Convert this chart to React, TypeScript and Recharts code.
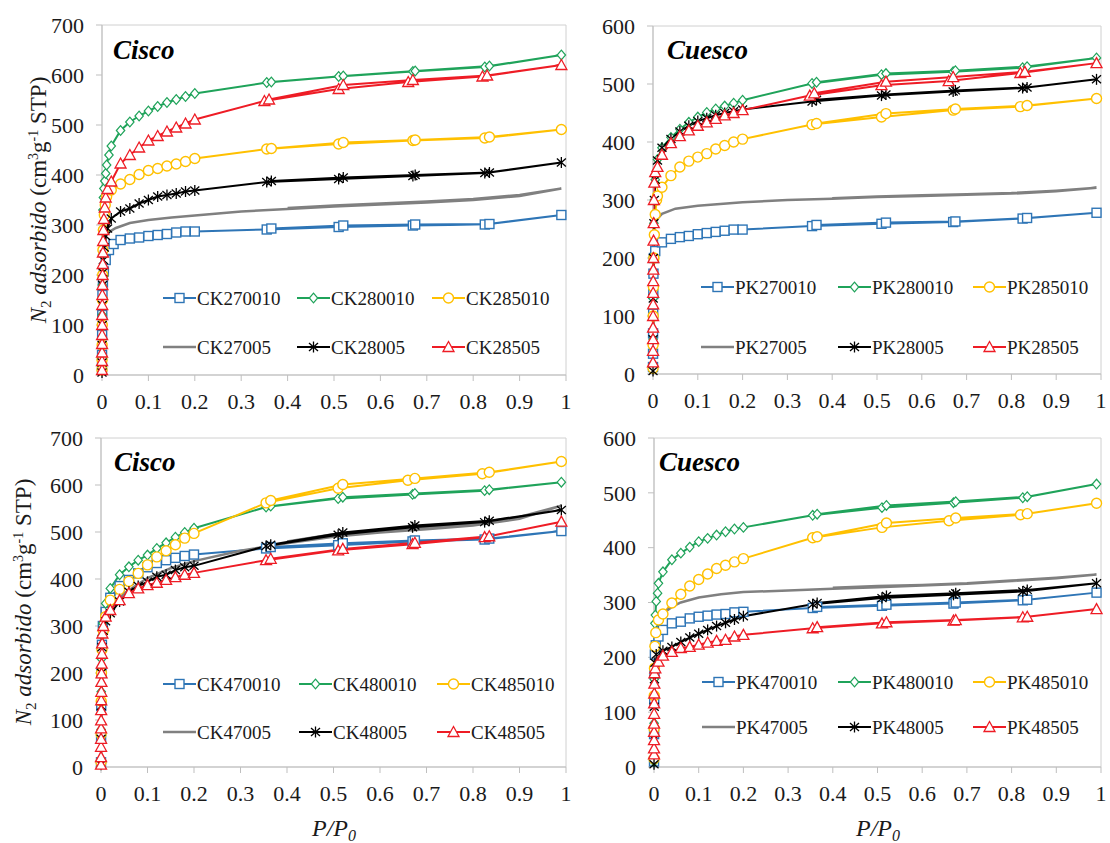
import React from 'react';
import { LineChart, Line, XAxis, YAxis, ReferenceArea } from 'recharts';

type Pt = [number, number];
type MarkerKind = 'square' | 'diamond' | 'circle' | 'none' | 'asterisk' | 'triangle';

const FONT = 'Liberation Serif';

const X_TICKS = [0, 0.1, 0.2, 0.3, 0.4, 0.5, 0.6, 0.7, 0.8, 0.9, 1];
const Y_TICKS_700 = [0, 100, 200, 300, 400, 500, 600, 700];
const Y_TICKS_600 = [0, 100, 200, 300, 400, 500, 600];

// ---------- Top-left: Cisco (CK2...) ----------
const TL_CK270010: Pt[] = [[0.00005, 15], [0.0001, 40], [0.0003, 80], [0.0006, 120], [0.001, 160], [0.002, 185], [0.004, 207], [0.008, 230], [0.015, 250], [0.025, 262], [0.04, 270], [0.06, 273], [0.08, 275], [0.10, 278], [0.12, 280], [0.14, 282], [0.16, 285], [0.18, 287], [0.20, 287], [0.355, 291], [0.51, 296], [0.67, 299], [0.825, 301], [0.99, 320], [0.835, 302], [0.675, 301], [0.52, 299], [0.365, 293]];
const TL_CK280010: Pt[] = [[0.00005, 20], [0.0001, 60], [0.0003, 120], [0.0006, 180], [0.001, 240], [0.0015, 290], [0.002, 330], [0.003, 355], [0.004, 373], [0.006, 388], [0.008, 403], [0.01, 420], [0.015, 440], [0.02, 458], [0.04, 489], [0.06, 506], [0.08, 518], [0.10, 528], [0.12, 537], [0.14, 545], [0.16, 551], [0.18, 557], [0.20, 563], [0.355, 585], [0.51, 597], [0.67, 607], [0.825, 616], [0.99, 640], [0.835, 618], [0.675, 608], [0.52, 598], [0.365, 586]];
const TL_CK285010: Pt[] = [[0.00005, 10], [0.0001, 30], [0.0003, 60], [0.0006, 100], [0.001, 150], [0.0015, 200], [0.002, 250], [0.003, 290], [0.005, 320], [0.007, 340], [0.01, 357], [0.02, 370], [0.04, 382], [0.06, 391], [0.08, 401], [0.10, 409], [0.12, 413], [0.14, 418], [0.16, 422], [0.18, 427], [0.20, 433], [0.355, 452], [0.51, 462], [0.67, 469], [0.825, 474], [0.99, 491], [0.835, 476], [0.675, 470], [0.52, 465], [0.365, 453]];
const TL_CK27005: Pt[] = [[0.00005, 10], [0.0002, 60], [0.0005, 120], [0.001, 180], [0.002, 230], [0.004, 262], [0.008, 278], [0.013, 285], [0.03, 294], [0.06, 304], [0.1, 310], [0.15, 315], [0.2, 319], [0.3, 327], [0.4, 332], [0.5, 337], [0.6, 341], [0.7, 345], [0.8, 350], [0.9, 358], [0.99, 373], [0.9, 360], [0.8, 352], [0.7, 347], [0.6, 343], [0.5, 339], [0.4, 334]];
const TL_CK28005: Pt[] = [[0.00005, 5], [0.0001, 25], [0.0003, 60], [0.0006, 100], [0.001, 140], [0.0015, 180], [0.002, 205], [0.003, 230], [0.005, 255], [0.008, 278], [0.012, 293], [0.02, 313], [0.04, 327], [0.06, 333], [0.08, 343], [0.10, 350], [0.12, 357], [0.14, 360], [0.16, 363], [0.18, 367], [0.20, 369], [0.355, 386], [0.51, 392], [0.67, 398], [0.825, 404], [0.99, 425], [0.835, 405], [0.675, 400], [0.52, 395], [0.365, 388]];
const TL_CK28505: Pt[] = [[0.00003, 10], [0.00006, 28], [0.0001, 45], [0.00015, 62], [0.0002, 80], [0.0003, 100], [0.0004, 120], [0.0005, 140], [0.0007, 160], [0.0009, 180], [0.0012, 200], [0.0015, 222], [0.002, 245], [0.0025, 268], [0.003, 290], [0.004, 312], [0.006, 335], [0.008, 355], [0.012, 372], [0.02, 387], [0.04, 423], [0.06, 440], [0.08, 455], [0.10, 469], [0.12, 478], [0.14, 487], [0.16, 495], [0.18, 503], [0.20, 511], [0.35, 548], [0.51, 572], [0.66, 586], [0.82, 597], [0.99, 620], [0.83, 599], [0.67, 590], [0.52, 580], [0.36, 551]];

// ---------- Top-right: Cuesco (PK2...) ----------
const TR_PK270010: Pt[] = [[0.00005, 12], [0.0001, 35], [0.0002, 70], [0.0004, 104], [0.0007, 138], [0.001, 173], [0.002, 200], [0.005, 212], [0.02, 227], [0.04, 233], [0.06, 236], [0.08, 238], [0.10, 241], [0.12, 243], [0.14, 245], [0.16, 247], [0.18, 249], [0.20, 249], [0.355, 255], [0.51, 259], [0.67, 262], [0.825, 268], [0.99, 278], [0.835, 269], [0.675, 263], [0.52, 261], [0.365, 257]];
const TR_PK280010: Pt[] = [[0.00005, 10], [0.0002, 60], [0.0005, 130], [0.001, 200], [0.002, 260], [0.003, 300], [0.005, 335], [0.01, 370], [0.02, 390], [0.04, 408], [0.06, 422], [0.08, 434], [0.10, 443], [0.12, 451], [0.14, 457], [0.16, 462], [0.18, 467], [0.20, 472], [0.355, 501], [0.51, 516], [0.67, 521], [0.825, 528], [0.99, 545], [0.835, 530], [0.675, 523], [0.52, 518], [0.365, 503]];
const TR_PK285010: Pt[] = [[0.00005, 10], [0.0002, 50], [0.0005, 100], [0.001, 150], [0.002, 200], [0.003, 240], [0.005, 275], [0.008, 300], [0.01, 307], [0.02, 322], [0.04, 342], [0.06, 357], [0.08, 367], [0.10, 374], [0.12, 380], [0.14, 388], [0.16, 394], [0.18, 400], [0.20, 405], [0.355, 430], [0.51, 443], [0.67, 455], [0.82, 461], [0.99, 475], [0.835, 463], [0.675, 457], [0.52, 449], [0.365, 432]];
const TR_PK27005: Pt[] = [[0.00005, 5], [0.0002, 60], [0.0005, 130], [0.001, 190], [0.002, 235], [0.004, 258], [0.01, 268], [0.02, 276], [0.05, 285], [0.1, 290], [0.15, 293], [0.2, 296], [0.3, 300], [0.4, 302], [0.5, 305], [0.6, 307], [0.7, 309], [0.8, 311], [0.9, 315], [0.99, 321], [0.9, 316], [0.8, 312], [0.7, 310], [0.6, 308], [0.5, 306], [0.4, 303]];
const TR_PK28005: Pt[] = [[0.00005, 5], [0.0002, 60], [0.0005, 130], [0.001, 200], [0.002, 260], [0.003, 300], [0.005, 335], [0.01, 368], [0.02, 390], [0.04, 405], [0.06, 418], [0.08, 428], [0.10, 436], [0.12, 441], [0.14, 446], [0.16, 450], [0.18, 453], [0.20, 456], [0.355, 470], [0.51, 480], [0.67, 487], [0.825, 493], [0.99, 508], [0.835, 494], [0.675, 489], [0.52, 482], [0.365, 473]];
const TR_PK28505: Pt[] = [[0.00003, 20], [0.00006, 40], [0.0001, 60], [0.00015, 80], [0.0002, 100], [0.0003, 120], [0.0004, 140], [0.0005, 160], [0.0007, 180], [0.0009, 200], [0.0012, 230], [0.0016, 260], [0.002, 300], [0.003, 330], [0.005, 348], [0.01, 357], [0.02, 378], [0.04, 398], [0.06, 410], [0.08, 420], [0.10, 428], [0.12, 434], [0.14, 440], [0.16, 446], [0.18, 450], [0.20, 455], [0.35, 480], [0.51, 498], [0.66, 505], [0.82, 519], [0.99, 536], [0.83, 521], [0.67, 512], [0.52, 504], [0.36, 484]];

// ---------- Bottom-left: Cisco (CK4...) ----------
const BL_CK470010: Pt[] = [[0.00005, 10], [0.0002, 60], [0.0005, 130], [0.001, 200], [0.002, 260], [0.004, 300], [0.01, 330], [0.02, 360], [0.04, 385], [0.06, 398], [0.08, 412], [0.10, 425], [0.12, 434], [0.14, 440], [0.16, 445], [0.18, 449], [0.20, 452], [0.355, 465], [0.51, 472], [0.67, 480], [0.825, 484], [0.99, 502], [0.835, 486], [0.675, 482], [0.52, 476], [0.365, 468]];
const BL_CK480010: Pt[] = [[0.00005, 10], [0.0002, 80], [0.0005, 160], [0.001, 230], [0.002, 280], [0.004, 306], [0.01, 348], [0.02, 380], [0.04, 409], [0.06, 426], [0.08, 440], [0.10, 451], [0.12, 465], [0.14, 477], [0.16, 489], [0.18, 499], [0.20, 508], [0.355, 553], [0.51, 571], [0.67, 580], [0.825, 588], [0.99, 606], [0.835, 590], [0.675, 582], [0.52, 574], [0.365, 555]];
const BL_CK485010: Pt[] = [[0.00005, 10], [0.0002, 70], [0.0005, 140], [0.001, 200], [0.002, 250], [0.005, 290], [0.01, 320], [0.02, 355], [0.04, 378], [0.06, 395], [0.08, 412], [0.10, 430], [0.12, 447], [0.14, 460], [0.16, 473], [0.18, 487], [0.20, 497], [0.355, 562], [0.51, 593], [0.66, 610], [0.82, 624], [0.99, 650], [0.835, 627], [0.675, 614], [0.52, 601], [0.365, 567]];
const BL_CK47005: Pt[] = [[0.00005, 10], [0.0005, 120], [0.001, 200], [0.002, 260], [0.005, 295], [0.01, 312], [0.02, 335], [0.05, 370], [0.1, 402], [0.15, 423], [0.2, 438], [0.3, 460], [0.4, 476], [0.5, 490], [0.6, 499], [0.7, 506], [0.8, 514], [0.9, 528], [0.99, 556], [0.9, 532], [0.8, 518], [0.7, 510], [0.6, 503], [0.5, 495], [0.4, 480]];
const BL_CK48005: Pt[] = [[0.00005, 5], [0.0002, 60], [0.0005, 130], [0.001, 200], [0.002, 255], [0.005, 290], [0.01, 310], [0.02, 327], [0.04, 352], [0.06, 373], [0.08, 385], [0.10, 394], [0.12, 405], [0.14, 409], [0.16, 419], [0.18, 425], [0.20, 428], [0.355, 470], [0.51, 494], [0.67, 510], [0.825, 521], [0.99, 547], [0.835, 524], [0.675, 514], [0.52, 499], [0.365, 473]];
const BL_CK48505: Pt[] = [[0.00003, 5], [0.00006, 21], [0.0001, 43], [0.00015, 60], [0.0002, 82], [0.0003, 99], [0.0004, 121], [0.0005, 142], [0.0007, 160], [0.0009, 181], [0.0012, 199], [0.0015, 220], [0.002, 241], [0.0025, 263], [0.003, 284], [0.005, 300], [0.01, 320], [0.02, 334], [0.04, 355], [0.06, 370], [0.08, 380], [0.10, 387], [0.12, 392], [0.14, 398], [0.16, 404], [0.18, 409], [0.20, 413], [0.355, 440], [0.51, 461], [0.67, 474], [0.825, 489], [0.99, 522], [0.835, 491], [0.675, 477], [0.52, 464], [0.365, 443]];

// ---------- Bottom-right: Cuesco (PK4...) ----------
const BR_PK470010: Pt[] = [[0.00005, 10], [0.0002, 60], [0.0005, 120], [0.001, 170], [0.002, 205], [0.004, 222], [0.01, 238], [0.02, 250], [0.04, 262], [0.06, 265], [0.08, 271], [0.10, 274], [0.12, 276], [0.14, 278], [0.16, 279], [0.18, 282], [0.20, 283], [0.355, 290], [0.51, 294], [0.67, 298], [0.825, 304], [0.99, 318], [0.835, 305], [0.675, 300], [0.52, 296], [0.365, 292]];
const BR_PK480010: Pt[] = [[0.00005, 10], [0.0002, 80], [0.0005, 160], [0.001, 220], [0.002, 262], [0.003, 277], [0.005, 302], [0.008, 317], [0.01, 335], [0.02, 356], [0.04, 378], [0.06, 390], [0.08, 401], [0.10, 411], [0.12, 417], [0.14, 423], [0.16, 429], [0.18, 434], [0.20, 437], [0.355, 459], [0.51, 473], [0.67, 482], [0.825, 491], [0.99, 516], [0.835, 493], [0.675, 484], [0.52, 477], [0.365, 461]];
const BR_PK485010: Pt[] = [[0.00005, 15], [0.0002, 70], [0.0005, 130], [0.001, 180], [0.002, 220], [0.004, 245], [0.01, 268], [0.02, 279], [0.04, 299], [0.06, 315], [0.08, 330], [0.10, 342], [0.12, 352], [0.14, 362], [0.16, 368], [0.18, 374], [0.20, 380], [0.355, 418], [0.51, 437], [0.66, 449], [0.82, 460], [0.99, 481], [0.835, 462], [0.675, 454], [0.52, 445], [0.365, 420]];
const BR_PK47005: Pt[] = [[0.00005, 5], [0.0005, 100], [0.001, 170], [0.002, 225], [0.004, 250], [0.01, 268], [0.02, 280], [0.04, 292], [0.06, 300], [0.1, 309], [0.15, 315], [0.2, 319], [0.3, 322], [0.4, 325], [0.5, 328], [0.6, 331], [0.7, 334], [0.8, 339], [0.9, 344], [0.99, 351], [0.9, 345], [0.8, 340], [0.7, 335], [0.6, 332], [0.5, 330], [0.4, 327]];
const BR_PK48005: Pt[] = [[0.00005, 5], [0.0002, 50], [0.0005, 110], [0.001, 160], [0.002, 190], [0.005, 205], [0.02, 212], [0.04, 219], [0.06, 228], [0.08, 236], [0.10, 243], [0.12, 250], [0.14, 257], [0.16, 263], [0.18, 269], [0.20, 275], [0.355, 297], [0.51, 308], [0.67, 314], [0.825, 320], [0.99, 335], [0.835, 323], [0.675, 317], [0.52, 312], [0.365, 299]];
const BR_PK48505: Pt[] = [[0.00003, 23], [0.00006, 34], [0.0001, 49], [0.00015, 64], [0.0002, 79], [0.0003, 97], [0.0004, 116], [0.0006, 134], [0.0008, 152], [0.001, 171], [0.003, 180], [0.01, 192], [0.02, 203], [0.04, 210], [0.06, 217], [0.08, 219], [0.10, 223], [0.12, 227], [0.14, 230], [0.16, 232], [0.18, 238], [0.20, 241], [0.355, 253], [0.51, 262], [0.67, 267], [0.825, 273], [0.99, 288], [0.835, 274], [0.675, 268], [0.52, 264], [0.365, 255]];

const TL_NAMES = ['CK270010', 'CK280010', 'CK285010', 'CK27005', 'CK28005', 'CK28505'];
const TR_NAMES = ['PK270010', 'PK280010', 'PK285010', 'PK27005', 'PK28005', 'PK28505'];
const BL_NAMES = ['CK470010', 'CK480010', 'CK485010', 'CK47005', 'CK48005', 'CK48505'];
const BR_NAMES = ['PK470010', 'PK480010', 'PK485010', 'PK47005', 'PK48005', 'PK48505'];

const COLORS = ['#2E75B6', '#1FA35A', '#FFC000', '#808080', '#000000', '#EE1C25'];
const MARKERS: MarkerKind[] = ['square', 'diamond', 'circle', 'none', 'asterisk', 'triangle'];

function Marker({ kind, color, cx, cy }: { kind: MarkerKind; color: string; cx: number; cy: number }) {
  if (kind === 'square') return <rect x={cx - 4.5} y={cy - 4.5} width={9} height={9} fill="#fff" stroke={color} strokeWidth={1.4} />;
  if (kind === 'diamond') return <polygon points={`${cx},${cy - 4.8} ${cx + 4.2},${cy} ${cx},${cy + 4.8} ${cx - 4.2},${cy}`} fill="#fff" stroke={color} strokeWidth={1.2} />;
  if (kind === 'circle') return <circle cx={cx} cy={cy} r={5} fill="#fff" stroke={color} strokeWidth={1.4} />;
  if (kind === 'triangle') return <polygon points={`${cx},${cy - 5.5} ${cx + 5.5},${cy + 4.5} ${cx - 5.5},${cy + 4.5}`} fill="#fff" stroke={color} strokeWidth={1.3} />;
  if (kind === 'asterisk')
    return (
      <g stroke={color} strokeWidth={1.3}>
        <line x1={cx} y1={cy - 5.5} x2={cx} y2={cy + 5.5} />
        <line x1={cx - 4.5} y1={cy - 4} x2={cx + 4.5} y2={cy + 4} />
        <line x1={cx - 4.5} y1={cy + 4} x2={cx + 4.5} y2={cy - 4} />
      </g>
    );
  return <g />;
}

type PanelCfg = {
  left: number; top: number; width: number; height: number;
  margin: { top: number; right: number; bottom: number; left: number };
  xAxisHeight: number;
  yMax: number; yTicks: number[];
  series: Pt[][]; names: string[];
};

const PANELS: PanelCfg[] = [
  { left: 0, top: 0, width: 580, height: 420, margin: { top: 25, right: 14, bottom: 0, left: 42 }, xAxisHeight: 45, yMax: 700, yTicks: Y_TICKS_700, series: [TL_CK270010, TL_CK280010, TL_CK285010, TL_CK27005, TL_CK28005, TL_CK28505], names: TL_NAMES },
  { left: 560, top: 0, width: 550, height: 420, margin: { top: 26, right: 9, bottom: 0, left: 33 }, xAxisHeight: 46, yMax: 600, yTicks: Y_TICKS_600, series: [TR_PK270010, TR_PK280010, TR_PK285010, TR_PK27005, TR_PK28005, TR_PK28505], names: TR_NAMES },
  { left: 0, top: 420, width: 580, height: 423, margin: { top: 18, right: 14, bottom: 36, left: 41 }, xAxisHeight: 40, yMax: 700, yTicks: Y_TICKS_700, series: [BL_CK470010, BL_CK480010, BL_CK485010, BL_CK47005, BL_CK48005, BL_CK48505], names: BL_NAMES },
  { left: 560, top: 420, width: 550, height: 423, margin: { top: 18, right: 9, bottom: 36, left: 34 }, xAxisHeight: 40, yMax: 600, yTicks: Y_TICKS_600, series: [BR_PK470010, BR_PK480010, BR_PK485010, BR_PK47005, BR_PK48005, BR_PK48505], names: BR_NAMES },
];

const tickStyle = { fontFamily: FONT, fontSize: 22, fill: '#1a1a1a' };

function Panel({ cfg }: { cfg: PanelCfg }) {
  return (
    <div style={{ position: 'absolute', left: cfg.left, top: cfg.top, width: cfg.width, height: cfg.height }}>
      <LineChart width={cfg.width} height={cfg.height} margin={cfg.margin}>
        <XAxis
          type="number"
          dataKey="x"
          domain={[0, 1]}
          ticks={X_TICKS}
          tickFormatter={(v: number) => String(+v.toFixed(1))}
          height={cfg.xAxisHeight}
          tick={tickStyle}
          tickSize={6}
          tickMargin={12}
          axisLine={{ stroke: '#BFBFBF' }}
          tickLine={{ stroke: '#BFBFBF' }}
          interval={0}
        />
        <YAxis
          type="number"
          domain={[0, cfg.yMax]}
          ticks={cfg.yTicks}
          width={60}
          tick={tickStyle}
          tickSize={6}
          tickMargin={12}
          axisLine={{ stroke: '#BFBFBF' }}
          tickLine={{ stroke: '#BFBFBF' }}
          interval={0}
        />
        <ReferenceArea x1={0} x2={1} y1={0} y2={cfg.yMax} fill="none" stroke="#D0D0D0" strokeWidth={1} />
        {cfg.series.map((pts, i) => (
          <Line
            key={cfg.names[i]}
            name={cfg.names[i]}
            data={pts.map(([x, y]) => ({ x, y }))}
            dataKey="y"
            type="linear"
            stroke={COLORS[i]}
            strokeWidth={MARKERS[i] === 'none' ? 2.5 : 2}
            isAnimationActive={false}
            dot={MARKERS[i] === 'none' ? false : (p: any) => <Marker key={`${cfg.names[i]}-${p.index}`} kind={MARKERS[i]} color={COLORS[i]} cx={p.cx} cy={p.cy} />}
            activeDot={false}
          />
        ))}
      </LineChart>
    </div>
  );
}

type LegendCfg = { cols: number[]; rows: number[]; names: string[] };
const LEGENDS: LegendCfg[] = [
  { cols: [163, 297, 432], rows: [298, 347], names: TL_NAMES },
  { cols: [701, 838, 973], rows: [287, 347], names: TR_NAMES },
  { cols: [163, 299, 437], rows: [684, 732], names: BL_NAMES },
  { cols: [702, 838, 973], rows: [682, 727], names: BR_NAMES },
];

const TITLES = [
  { x: 113, y: 59, t: 'Cisco' },
  { x: 667, y: 59, t: 'Cuesco' },
  { x: 114, y: 471, t: 'Cisco' },
  { x: 659, y: 471, t: 'Cuesco' },
];

function YLabel({ x, y }: { x: number; y: number }) {
  return (
    <text transform={`translate(${x},${y}) rotate(-90)`} textAnchor="middle" fontFamily={FONT} fontSize={23} fill="#1a1a1a">
      <tspan fontStyle="italic">N</tspan>
      <tspan fontSize={15} dy={5}>2</tspan>
      <tspan fontStyle="italic" dy={-5}> adsorbido</tspan>
      <tspan> (cm</tspan>
      <tspan fontSize={14} dy={-8}>3</tspan>
      <tspan dy={8}>g</tspan>
      <tspan fontSize={14} dy={-8}>-1</tspan>
      <tspan dy={8}> STP)</tspan>
    </text>
  );
}

function XLabel({ x, y }: { x: number; y: number }) {
  return (
    <text x={x} y={y} textAnchor="middle" fontFamily={FONT} fontSize={24} fontStyle="italic" fill="#1a1a1a">
      <tspan>P/P</tspan>
      <tspan fontSize={16} dy={5}>0</tspan>
    </text>
  );
}

function Overlay() {
  return (
    <svg width={1110} height={843} style={{ position: 'absolute', left: 0, top: 0, pointerEvents: 'none' }}>
      {TITLES.map((t, i) => (
        <text key={i} x={t.x} y={t.y} fontFamily={FONT} fontSize={27} fontWeight="bold" fontStyle="italic" fill="#000">
          {t.t}
        </text>
      ))}
      <YLabel x={46} y={200} />
      <YLabel x={31} y={602} />
      <XLabel x={334} y={836} />
      <XLabel x={878} y={836} />
      {LEGENDS.map((lg, li) =>
        lg.names.map((n, i) => {
          const x0 = lg.cols[i % 3];
          const y0 = lg.rows[Math.floor(i / 3)];
          return (
            <g key={`${li}-${n}`}>
              <line x1={x0} y1={y0} x2={x0 + 33} y2={y0} stroke={COLORS[i]} strokeWidth={MARKERS[i] === 'none' ? 2.5 : 2} />
              <Marker kind={MARKERS[i]} color={COLORS[i]} cx={x0 + 16.5} cy={y0} />
              <text x={x0 + 34} y={y0} dominantBaseline="central" fontFamily={FONT} fontSize={19} fill="#1a1a1a">
                {n}
              </text>
            </g>
          );
        })
      )}
    </svg>
  );
}

export default function App() {
  return (
    <div style={{ position: 'absolute', left: 0, top: 0, width: 1110, height: 843, background: '#fff', overflow: 'hidden' }}>
      {PANELS.map((p, i) => (
        <Panel key={i} cfg={p} />
      ))}
      <Overlay />
    </div>
  );
}
